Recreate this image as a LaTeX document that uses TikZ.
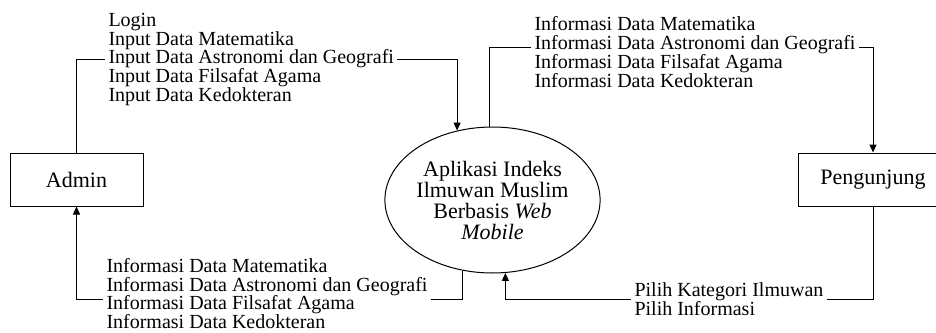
\documentclass[tikz,border=0pt]{standalone}
\usepackage{fontspec}
\setmainfont{Liberation Serif}
\usetikzlibrary{arrows.meta,shapes.geometric}

\begin{document}
\begin{tikzpicture}[
  x=0.5pt, y=-0.5pt,
  line width=0.5pt,
  entitas/.style={rectangle, draw, minimum height=26.5pt, font=\fontsize{11}{13}\selectfont},
  proses/.style={ellipse, draw, minimum width=90.5pt, minimum height=73pt, inner sep=0pt, align=center, font=\fontsize{11}{10.5}\selectfont},
  arus/.style={align=left, inner xsep=1.5pt, inner ysep=0pt, font=\fontsize{10}{9.4}\selectfont},
  alir/.style={draw, -{Triangle[length=4pt,width=3.5pt]}}
]
\useasboundingbox (0,0) rectangle (936,332);
\node[entitas, minimum width=66.5pt] (admin) at (76.5,179.5) {Admin};
\node[proses] (aplikasi) at (492.5,200) {Aplikasi Indeks\\Ilmuwan Muslim\\Berbasis \textit{Web}\\\textit{Mobile}};
\node[entitas, minimum width=75pt] (pengunjung) at (873,179.5) {Pengunjung};

\node[arus, anchor=west] (inputdata) at (105,59.5) {Login\\Input Data Matematika\\Input Data Astronomi dan Geografi\\Input Data Filsafat Agama\\Input Data Kedokteran};
\node[arus, anchor=west] (infoatas) at (531,52) {Informasi Data Matematika\\Informasi Data Astronomi dan Geografi\\Informasi Data Filsafat Agama\\Informasi Data Kedokteran};
\node[arus, anchor=west] (infobawah) at (103,293.5) {Informasi Data Matematika\\Informasi Data Astronomi dan Geografi\\Informasi Data Filsafat Agama\\Informasi Data Kedokteran};
\node[arus, anchor=west] (pilih) at (631,299) {Pilih Kategori Ilmuwan\\Pilih Informasi};

\draw (admin.north) |- (inputdata.west);
\draw[alir] (inputdata.east) -| (aplikasi.117);
\draw (aplikasi.92) |- ([yshift=2.5pt]infoatas.west);
\draw[alir] ([yshift=2.5pt]infoatas.east) -| (pengunjung.north);
\draw (pengunjung.south) |- (pilih.east);
\draw[alir] (pilih.west) -| (aplikasi.280);
\draw (aplikasi.247) |- ([yshift=-2.75pt]infobawah.east);
\draw[alir] ([yshift=-2.75pt]infobawah.west) -| (admin.south);
\end{tikzpicture}
\end{document}
